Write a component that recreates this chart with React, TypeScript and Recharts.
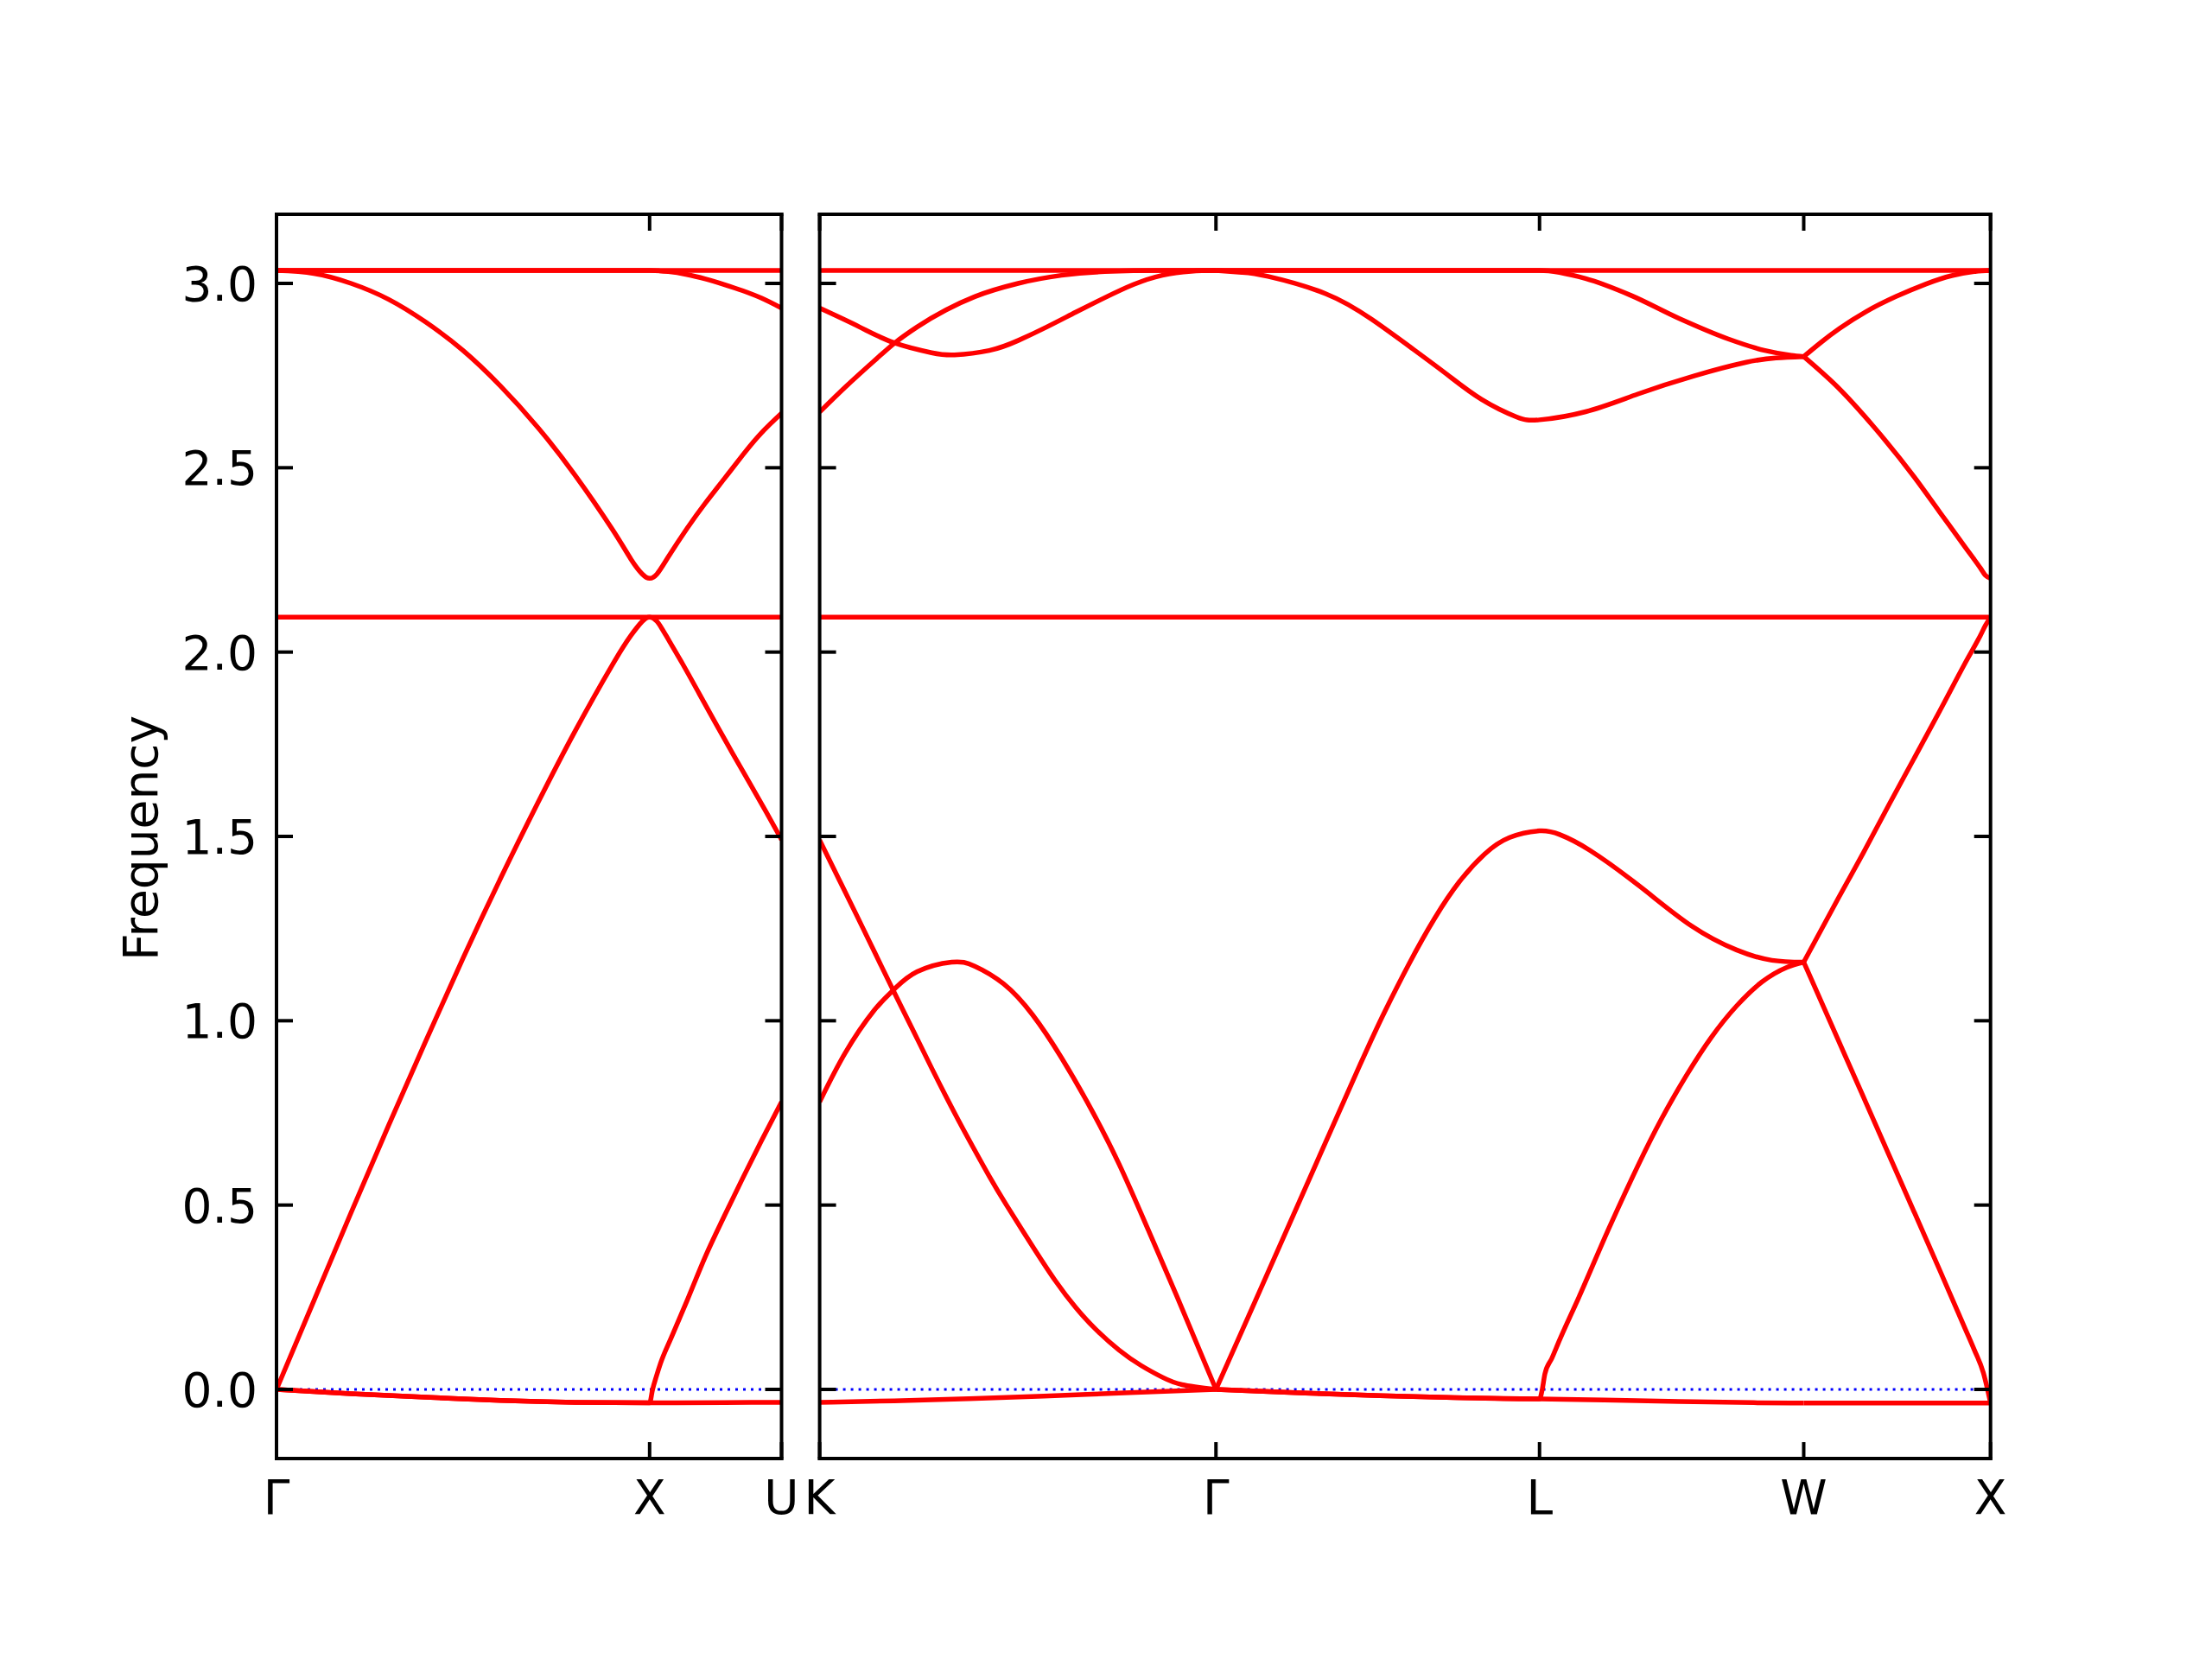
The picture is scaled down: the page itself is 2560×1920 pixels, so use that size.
import React from 'react'
import { LineChart, Line, XAxis, YAxis } from 'recharts'

type Pt = [number, number]

// frequency axis
const Y_MIN = -0.1875
const Y_MAX = 3.1875
const Y_TICKS = [0, 0.5, 1, 1.5, 2, 2.5, 3]
const Y_TICK_LABELS = ['0.0', '0.5', '1.0', '1.5', '2.0', '2.5', '3.0']

// k-path: high symmetry points (path length) and their names
const LEFT_PATH = [0, 1, 1.3536]
const LEFT_NAMES = ['Γ', 'X', 'U']
const RIGHT_PATH = [0, 1.0607, 1.9267, 2.6338, 3.1338]
const RIGHT_NAMES = ['K', 'Γ', 'L', 'W', 'X']

// ---- left panel: Γ - X - U ----
const L_ZERO: Pt[] = [[0, 0], [1.3536, 0]]
const L_TOP: Pt[] = [[0, 3.035], [1.3536, 3.035]]
const L_MID: Pt[] = [[0, 2.095], [1.3536, 2.095]]
const L_C: Pt[] = [[0, 3.035], [1, 3.035], [1.05, 3.032], [1.1, 3.024], [1.15, 3.012], [1.2, 2.997], [1.25, 2.98], [1.3, 2.96], [1.3536, 2.933]]
const L_OPT: Pt[] = [
  [0, 3.035], [0.1, 3.027], [0.2, 3.0], [0.3, 2.957], [0.4, 2.895], [0.5, 2.818], [0.6, 2.722], [0.7, 2.61],
  [0.8, 2.48], [0.9, 2.333], [0.95, 2.252], [0.98, 2.212], [1, 2.2], [1.02, 2.212], [1.05, 2.258], [1.1, 2.335],
  [1.15, 2.405], [1.2, 2.47], [1.25, 2.535], [1.3, 2.595], [1.3536, 2.648],
]
const L_AC: Pt[] = [
  [0, 0], [0.1, 0.24], [0.2, 0.48], [0.3, 0.715], [0.4, 0.945], [0.5, 1.17], [0.6, 1.385], [0.7, 1.59],
  [0.8, 1.785], [0.9, 1.965], [0.95, 2.045], [0.98, 2.083], [1, 2.095], [1.02, 2.083], [1.044, 2.045],
  [1.089, 1.967], [1.133, 1.887], [1.178, 1.805], [1.222, 1.726], [1.267, 1.647], [1.311, 1.569], [1.3536, 1.491],
]
const L_F: Pt[] = [
  [0, 0], [0.1, -0.006], [0.2, -0.0115], [0.3, -0.0165], [0.4, -0.021], [0.5, -0.026], [0.6, -0.03],
  [0.7, -0.033], [0.8, -0.035], [0.9, -0.036], [1, -0.0365], [1.008, 0], [1.018, 0.035], [1.029, 0.07],
  [1.06, 0.145], [1.1, 0.24], [1.15, 0.362], [1.2, 0.47], [1.25, 0.574], [1.3, 0.675], [1.3536, 0.78],
]
const L_G: Pt[] = [
  [0, 0], [0.1, -0.006], [0.2, -0.0115], [0.3, -0.0165], [0.4, -0.021], [0.5, -0.026], [0.6, -0.03],
  [0.7, -0.033], [0.8, -0.035], [0.9, -0.036], [1, -0.0365], [1.2, -0.0358], [1.3536, -0.035],
]

// ---- right panel: K - Γ - L - W - X ----
const R_ZERO: Pt[] = [[0, 0], [3.1338, 0]]
const R_TOP: Pt[] = [[0, 3.035], [3.1338, 3.035]]
const R_MID: Pt[] = [[0, 2.095], [3.1338, 2.095]]

const KG_P: Pt[] = [
  [0, 2.933], [0.1065, 2.882], [0.199, 2.839], [0.2995, 2.812], [0.361, 2.806], [0.454, 2.818], [0.531, 2.845],
  [0.608, 2.882], [0.6855, 2.922], [0.7627, 2.961], [0.84, 2.997], [0.917, 3.022], [0.994, 3.033], [1.0607, 3.035],
]
const KG_Q: Pt[] = [
  [0, 2.651], [0.068, 2.718], [0.145, 2.789], [0.199, 2.837], [0.261, 2.882], [0.338, 2.928], [0.415, 2.964],
  [0.531, 3.0], [0.647, 3.022], [0.763, 3.032], [0.917, 3.035], [1.0607, 3.035],
]
const KG_R: Pt[] = [
  [0, 1.49], [0.05, 1.387], [0.1, 1.284], [0.15, 1.18], [0.199, 1.078], [0.25, 0.974], [0.3, 0.871],
  [0.361, 0.75], [0.41, 0.658], [0.454, 0.578], [0.5, 0.5], [0.57, 0.388], [0.63, 0.296], [0.6855, 0.222],
  [0.74, 0.162], [0.801, 0.107], [0.86, 0.065], [0.917, 0.033], [0.97, 0.013], [1.0607, 0],
]
const KG_S: Pt[] = [
  [0, 0.78], [0.068, 0.912], [0.145, 1.027], [0.199, 1.085], [0.261, 1.133], [0.3535, 1.159], [0.415, 1.148],
  [0.4925, 1.1], [0.57, 1.016], [0.647, 0.9], [0.724, 0.765], [0.801, 0.612], [0.8785, 0.435],
  [0.956, 0.253], [1.0607, 0],
]
const KG_T: Pt[] = [[0, -0.035], [0.2, -0.031], [0.4, -0.025], [0.6, -0.018], [0.8, -0.01], [1.0607, 0]]

const GW_TOP2: Pt[] = [
  [1.0607, 3.035], [1.9267, 3.035], [2.05, 3.013], [2.17, 2.968], [2.3, 2.905], [2.43, 2.85], [2.53, 2.818],
  [2.6, 2.805], [2.6338, 2.8015],
]
const GW_OPT: Pt[] = [
  [1.0607, 3.035], [1.13, 3.03], [1.2, 3.019], [1.3545, 2.972], [1.4783, 2.902], [1.5866, 2.823], [1.6793, 2.753],
  [1.7721, 2.685], [1.8649, 2.638], [1.9267, 2.63], [2.05, 2.652], [2.19, 2.7], [2.34, 2.749], [2.48, 2.786],
  [2.56, 2.798], [2.6338, 2.8015],
]
const GW_AC: Pt[] = [
  [1.0607, 0], [1.1783, 0.268], [1.312, 0.574], [1.4456, 0.879], [1.5125, 1.025], [1.5793, 1.158],
  [1.6461, 1.278], [1.7129, 1.378], [1.7797, 1.452], [1.8465, 1.497], [1.9267, 1.515], [1.9808, 1.505],
  [2.0619, 1.462], [2.197, 1.363], [2.3323, 1.258], [2.454, 1.192], [2.5486, 1.164], [2.6338, 1.159],
]
const GW_V: Pt[] = [
  [1.0607, 0], [1.3, -0.01], [1.5, -0.017], [1.7, -0.022], [1.9267, -0.026], [1.934, 0], [1.941, 0.042],
  [1.96, 0.085], [1.9808, 0.135], [2.032, 0.25], [2.116, 0.445], [2.2512, 0.73], [2.3188, 0.85],
  [2.3864, 0.955], [2.454, 1.04], [2.5216, 1.105], [2.589, 1.145], [2.6338, 1.159],
]
const GW_BOT: Pt[] = [
  [1.0607, 0], [1.3, -0.01], [1.5, -0.017], [1.7, -0.022], [1.9267, -0.026], [2.1, -0.029], [2.3, -0.033],
  [2.5, -0.036], [2.6338, -0.037],
]

const WX_UP: Pt[] = [
  [2.6338, 2.8015], [2.68, 2.84], [2.73, 2.878], [2.8, 2.923], [2.88, 2.964], [2.96, 2.998], [3.03, 3.021],
  [3.09, 3.032], [3.1338, 3.035],
]
const WX_DOWN: Pt[] = [
  [2.6338, 2.8015], [2.7251, 2.718], [2.8205, 2.612], [2.9295, 2.475], [2.9976, 2.38], [3.0657, 2.285],
  [3.1066, 2.228], [3.12, 2.208], [3.1338, 2.2],
]
const WX_AC: Pt[] = [
  [2.6338, 1.159], [2.7251, 1.33], [2.7932, 1.455], [2.8614, 1.585], [2.9295, 1.712], [2.9976, 1.84],
  [3.0657, 1.97], [3.1066, 2.045], [3.12, 2.072], [3.1338, 2.094],
]
const WX_V: Pt[] = [
  [2.6338, 1.159], [2.7251, 0.95], [2.7932, 0.794], [2.8614, 0.637], [2.9295, 0.481], [2.9976, 0.324],
  [3.0657, 0.165], [3.09, 0.108], [3.1146, 0.045], [3.1338, -0.037],
]
const WX_BOT: Pt[] = [[2.6338, -0.037], [3.1338, -0.037]]

// smooth bands get a natural spline, the ones with kinks stay monotone
const LEFT_BANDS: [Pt[], string][] = [
  [L_TOP, 'linear'], [L_C, 'monotone'], [L_OPT, 'natural'], [L_MID, 'linear'],
  [L_AC, 'natural'], [L_F, 'monotone'], [L_G, 'monotone'],
]
const RIGHT_BANDS: [Pt[], string][] = [
  [R_TOP, 'linear'], [R_MID, 'linear'],
  [KG_P, 'natural'], [KG_Q, 'monotone'], [KG_R, 'natural'], [KG_S, 'natural'], [KG_T, 'monotone'],
  [GW_TOP2, 'monotone'], [GW_OPT, 'natural'], [GW_AC, 'natural'], [GW_V, 'monotone'], [GW_BOT, 'monotone'],
  [WX_UP, 'natural'], [WX_DOWN, 'monotone'], [WX_AC, 'monotone'], [WX_V, 'monotone'], [WX_BOT, 'linear'],
]

const FONT = '"DejaVu Sans", sans-serif'
const FS = 55
const TICK = 19
const SPINE = 4
const PLOT_TOP = 248
const PLOT_BOTTOM = 1688
const AX = 1 // axis band thickness (recharts skips axes of size 0)

const rows = (pts: Pt[]) => pts.map(([k, f]) => ({ k, f }))
const axisStyle = { stroke: '#000', strokeWidth: SPINE, strokeLinecap: 'square' as const }

function nearest(path: number[], v: number) {
  let best = 0
  path.forEach((p, i) => {
    if (Math.abs(p - v) < Math.abs(path[best] - v)) best = i
  })
  return best
}

function Panel({ bands, zero, path, names, left, right, showLabels }: any) {
  const xMax = path[path.length - 1]
  return (
    <LineChart
      width={2560}
      height={1920}
      margin={{ top: PLOT_TOP - AX, bottom: 1920 - PLOT_BOTTOM - AX, left: left - AX, right: right - AX }}
    >
      <XAxis
        xAxisId="b"
        dataKey="k"
        type="number"
        domain={[0, xMax]}
        ticks={path}
        interval={0}
        height={AX}
        tickSize={0}
        tickMargin={0}
        allowDataOverflow
        axisLine={axisStyle}
        tickLine={false}
        tick={(p: any) => (
          <g>
            <line x1={p.x} x2={p.x} y1={PLOT_BOTTOM} y2={PLOT_BOTTOM - TICK} stroke="#000" strokeWidth={SPINE} />
            <text x={p.x} y={PLOT_BOTTOM + 64} textAnchor="middle" fontFamily={FONT} fontSize={FS} fill="#000">
              {names[nearest(path, p.payload.value)]}
            </text>
          </g>
        )}
      />
      <XAxis
        xAxisId="t"
        orientation="top"
        dataKey="k"
        type="number"
        domain={[0, xMax]}
        ticks={path}
        interval={0}
        height={AX}
        tickSize={0}
        tickMargin={0}
        allowDataOverflow
        axisLine={axisStyle}
        tickLine={false}
        tick={(p: any) => (
          <line x1={p.x} x2={p.x} y1={PLOT_TOP} y2={PLOT_TOP + TICK} stroke="#000" strokeWidth={SPINE} />
        )}
      />
      <YAxis
        yAxisId="l"
        type="number"
        domain={[Y_MIN, Y_MAX]}
        ticks={Y_TICKS}
        interval={0}
        width={AX}
        tickSize={0}
        tickMargin={0}
        allowDataOverflow
        axisLine={axisStyle}
        tickLine={false}
        tick={(p: any) => (
          <g>
            <line x1={left} x2={left + TICK} y1={p.y} y2={p.y} stroke="#000" strokeWidth={SPINE} />
            {showLabels && (
              <text x={left - 22} y={p.y + 20} textAnchor="end" fontFamily={FONT} fontSize={FS} fill="#000">
                {Y_TICK_LABELS[nearest(Y_TICKS, p.payload.value)]}
              </text>
            )}
          </g>
        )}
      />
      <YAxis
        yAxisId="r"
        orientation="right"
        type="number"
        domain={[Y_MIN, Y_MAX]}
        ticks={Y_TICKS}
        interval={0}
        width={AX}
        tickSize={0}
        tickMargin={0}
        allowDataOverflow
        axisLine={axisStyle}
        tickLine={false}
        tick={(p: any) => (
          <line x1={2560 - right} x2={2560 - right - TICK} y1={p.y} y2={p.y} stroke="#000" strokeWidth={SPINE} />
        )}
      />
      <Line
        xAxisId="b"
        yAxisId="l"
        data={rows(zero)}
        dataKey="f"
        type="linear"
        stroke="#0000ff"
        strokeWidth={2.8}
        strokeDasharray="3 6"
        dot={false}
        activeDot={false}
        isAnimationActive={false}
      />
      {bands.map(([b, curve]: [Pt[], any], i: number) => (
        <Line
          key={i}
          xAxisId="b"
          yAxisId="l"
          data={rows(b)}
          dataKey="f"
          type={curve}
          stroke="#ff0000"
          strokeWidth={5.5}
          dot={false}
          activeDot={false}
          isAnimationActive={false}
        />
      ))}
    </LineChart>
  )
}

export default function App() {
  return (
    <div style={{ position: 'absolute', left: 0, top: 0, width: 2560, height: 1920, background: '#fff' }}>
      <div style={{ position: 'absolute', left: 0, top: 0 }}>
        <Panel bands={LEFT_BANDS} zero={L_ZERO} path={LEFT_PATH} names={LEFT_NAMES} left={320} right={2560 - 904.5} showLabels />
      </div>
      <div style={{ position: 'absolute', left: 0, top: 0 }}>
        <Panel bands={RIGHT_BANDS} zero={R_ZERO} path={RIGHT_PATH} names={RIGHT_NAMES} left={948.6} right={2560 - 2303.7} showLabels={false} />
      </div>
      <svg width={2560} height={1920} style={{ position: 'absolute', left: 0, top: 0, pointerEvents: 'none' }}>
        <text transform="translate(182,970) rotate(-90)" textAnchor="middle" fontFamily={FONT} fontSize={FS} fill="#000">
          Frequency
        </text>
      </svg>
    </div>
  )
}
